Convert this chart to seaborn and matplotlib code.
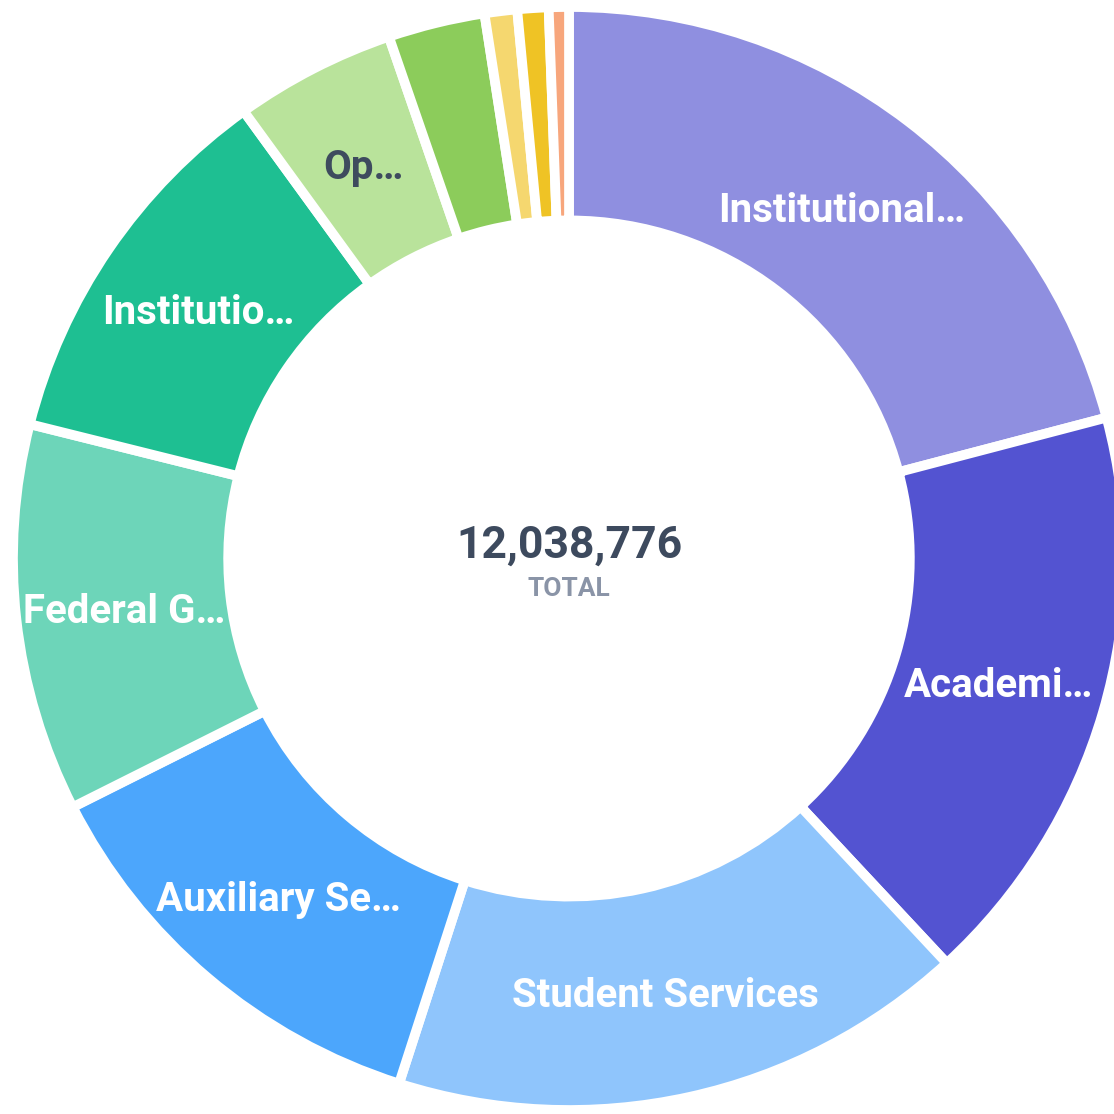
import matplotlib
matplotlib.use('Agg')
import numpy as np
import matplotlib.pyplot as plt
import seaborn as sns

# slice data (clockwise from 12 o'clock)
categories = ['Institutional Support', 'Academic Support', 'Student Services',
              'Auxiliary Services', 'Federal Grants', 'Institutional Aid',
              'Operations', 'Other 1', 'Other 2', 'Other 3', 'Other 4']
values = [2514766, 2073344, 2026527, 1518223, 1367739, 1340986,
          565154, 339427, 113700, 108683, 70227]
labels = ['Institutional…', 'Academi…', 'Student Services', 'Auxiliary Se…',
          'Federal G…', 'Institutio…', 'Op…', '', '', '', '']
colors = ['#8f8fe0', '#5353d1', '#8fc5fc', '#4ca6fc', '#6dd5b9', '#1ebf92',
          '#b9e39b', '#8ccc5b', '#f5d76f', '#efc325', '#f7a67c']
label_colors = ['white'] * 6 + ['#3e4b5e'] + ['white'] * 4

sns.set_theme(style='white')
plt.rcParams['font.family'] = ['Roboto', 'DejaVu Sans']

fig = plt.figure(figsize=(11.14, 11.14), dpi=100)
# ring is a touch wider than tall in the reference and cut off on the right
ax = fig.add_axes([13 / 1114, 4 / 1114, 1112 / 1114, 1103 / 1114])

wedges, _ = ax.pie(values, colors=colors, startangle=90, counterclock=False,
                   radius=1.0, wedgeprops=dict(width=0.387, edgecolor='white', linewidth=7))

# labels at the middle of the ring
for w, lab, lc in zip(wedges, labels, label_colors):
    if not lab:
        continue
    ang = np.deg2rad((w.theta1 + w.theta2) / 2)
    r = 0.805
    ax.text(r * np.cos(ang), r * np.sin(ang), lab, ha='center', va='center_baseline',
            fontsize=29, fontweight='bold', color=lc)

total = sum(values)
ax.text(0, 0.023, f'{total:,}', ha='center', va='center', fontsize=32,
        fontweight='bold', color='#3d4a5e')
ax.text(0, -0.056, 'TOTAL', ha='center', va='center', fontsize=19,
        fontweight='bold', color='#8a94a7')

ax.set_xlim(-1, 1)
ax.set_ylim(-1, 1)
ax.set_aspect('auto')
ax.axis('off')

plt.savefig('out.png', dpi=100, facecolor='white')
